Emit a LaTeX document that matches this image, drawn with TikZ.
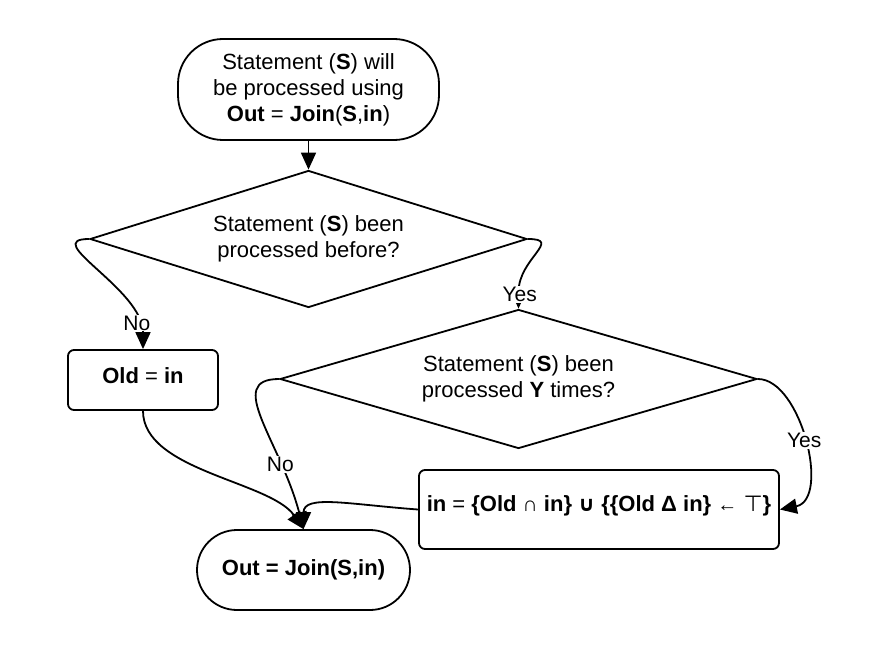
\documentclass[tikz,border=0pt]{standalone}
\usepackage{fontspec}
\setmainfont{Liberation Sans}
\newfontfamily\dv{DejaVu Sans}
\usetikzlibrary{shapes.geometric,arrows.meta}
\begin{document}
\begin{tikzpicture}[x=1pt,y=-1pt,
  every node/.style={font=\fontsize{22}{26}\selectfont},
  conn/.style={line width=1.8pt,-{Triangle[length=17pt,width=15pt]}},
  boxshape/.style={draw,line width=1.8pt,inner sep=0pt,align=center},
  decision/.style={draw,line width=1.8pt,diamond,inner sep=0pt,align=center},
  lbl/.style={fill=white,inner sep=1pt,font=\fontsize{21}{24}\selectfont}]
\fill[white] (0,0) rectangle (872,650);
\useasboundingbox (0,0) rectangle (872,650);
\node[boxshape,minimum width=261pt,minimum height=101pt,rounded corners=45pt] (top) at (308.5,89.5)
  {Statement (\textbf{S}) will\\be processed using\\\textbf{Out} = \textbf{Join}(\textbf{S},\textbf{in})};
\node[decision,minimum width=437pt,minimum height=137pt,shape aspect=3.2] (d1) at (308.5,239)
  {Statement (\textbf{S}) been\\processed before?};
\node[decision,minimum width=477pt,minimum height=139pt,shape aspect=3.4] (d2) at (518.5,379)
  {Statement (\textbf{S}) been\\processed \textbf{Y} times?};
\node[boxshape,minimum width=150pt,minimum height=60pt,rounded corners=6pt,text height=16pt,text depth=10pt] (old) at (143,380)
  {\textbf{Old} = \textbf{in}};
\node[boxshape,minimum width=360pt,minimum height=79pt,rounded corners=6pt,text height=16pt,text depth=13pt] (inb) at (599,509.5)
  {\textbf{in} = \textbf{\{Old} {\fontsize{21}{21}\selectfont ∩} \textbf{in\}} {\dv\bfseries\fontsize{21}{21}\selectfont ∪} \textbf{\{\{Old Δ in\}} {\fontsize{20}{20}\selectfont ←} {\dv ⊤}\textbf{\}}};
\node[boxshape,minimum width=213pt,minimum height=80pt,rounded corners=40pt,text height=16pt,text depth=5pt] (out) at (303.5,570)
  {\textbf{Out = Join(S,in)}};
\draw[conn] (top.south) -- (d1.north);
\draw[conn] (d1.west) .. controls +(-50,0) and +(0,-60) .. (old.north) node[pos=0.85,lbl] {No};
\draw[conn] (d1.east) .. controls +(35,0) and +(0,-50) .. (d2.north) node[pos=0.9,lbl] {Yes};
\draw[conn] (d2.west) .. controls +(-55,0) and +(-23,-88) .. (out.north) node[pos=0.73,lbl] {No};
\draw[conn] (old.south) .. controls +(0,60) and +(-33,-48) .. (out.north);
\draw[conn] (inb.west) .. controls +(-69,-5) and +(0,-35) .. (out.north);
\draw[conn] (d2.east) .. controls +(43,0) and +(51,-10) .. (inb.east) node[pos=0.5,lbl] {Yes};
\end{tikzpicture}
\end{document}
